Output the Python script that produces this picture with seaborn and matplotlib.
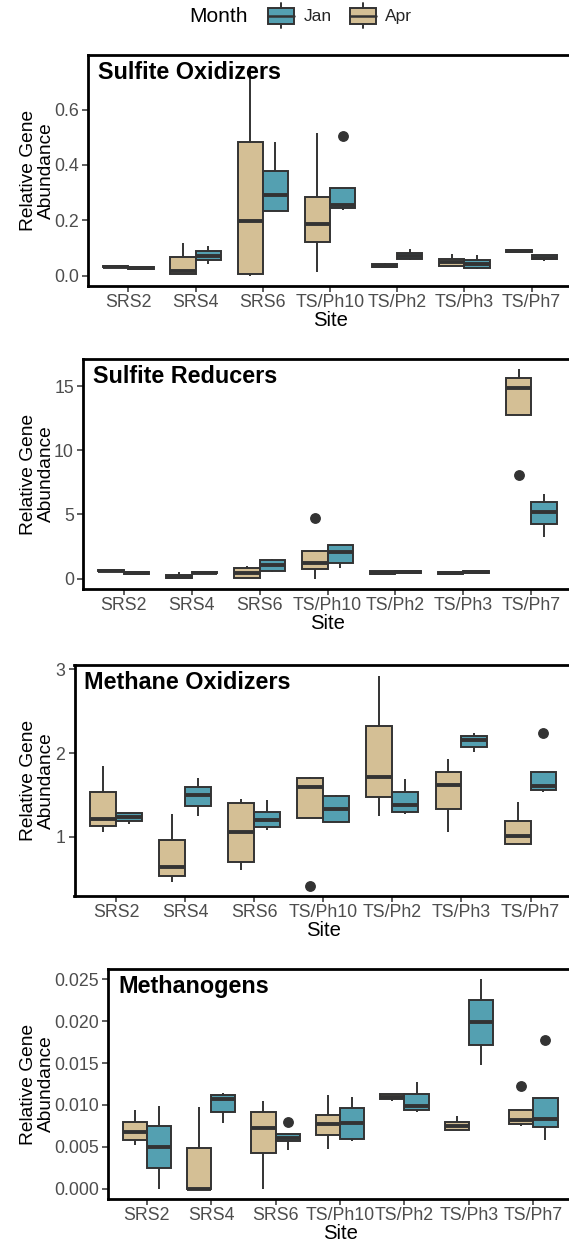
import matplotlib
matplotlib.use("Agg")
import matplotlib.pyplot as plt
from matplotlib.patches import Patch, Rectangle
from matplotlib.lines import Line2D
from matplotlib.legend_handler import HandlerBase
from matplotlib.ticker import FormatStrFormatter
import numpy as np
import pandas as pd
import seaborn as sns

# ---------------------------------------------------------------- data
SITES = ["SRS2", "SRS4", "SRS6", "TS/Ph10", "TS/Ph2", "TS/Ph3", "TS/Ph7"]
MONTHS = ["Apr", "Jan"]          # drawing order within each site
LEGEND_MONTHS = ["Jan", "Apr"]   # order shown in the legend

# per-site observations (one list per site, in SITES order)
sulfite_ox_apr = [
    [0.027, 0.029, 0.032, 0.036, 0.038],
    [0.004, 0.006, 0.018, 0.066, 0.117],
    [0.000, 0.005, 0.198, 0.482, 0.760],
    [0.011, 0.123, 0.186, 0.283, 0.515],
    [0.029, 0.032, 0.036, 0.040, 0.046],
    [0.033, 0.036, 0.048, 0.060, 0.077],
    [0.082, 0.084, 0.087, 0.091, 0.093],
]
sulfite_ox_jan = [
    [0.022, 0.025, 0.028, 0.031, 0.034],
    [0.043, 0.055, 0.070, 0.090, 0.105],
    [0.232, 0.235, 0.290, 0.379, 0.484],
    [0.237, 0.243, 0.243, 0.255, 0.255, 0.318, 0.318, 0.318, 0.505],
    [0.055, 0.058, 0.071, 0.082, 0.095],
    [0.024, 0.026, 0.040, 0.056, 0.075],
    [0.052, 0.058, 0.064, 0.073, 0.075],
]

sulfite_red_apr = [
    [0.55, 0.58, 0.62, 0.68, 0.72],
    [0.05, 0.07, 0.12, 0.30, 0.52],
    [0.05, 0.07, 0.40, 0.85, 0.98],
    [0.00, 0.78, 0.78, 1.22, 1.22, 2.15, 2.15, 2.15, 4.72],
    [0.30, 0.34, 0.45, 0.58, 0.62],
    [0.30, 0.36, 0.45, 0.54, 0.58],
    [8.10, 12.75, 12.75, 14.84, 14.84, 15.65, 15.65, 16.30, 16.30],
]
sulfite_red_jan = [
    [0.30, 0.38, 0.45, 0.52, 0.60],
    [0.38, 0.40, 0.45, 0.52, 0.55],
    [0.52, 0.60, 1.08, 1.42, 1.55],
    [0.85, 1.25, 2.05, 2.60, 2.65],
    [0.42, 0.45, 0.52, 0.62, 0.66],
    [0.38, 0.42, 0.48, 0.55, 0.58],
    [3.20, 4.22, 5.18, 5.96, 6.60],
]

methane_ox_apr = [
    [1.060, 1.131, 1.219, 1.536, 1.840],
    [0.457, 0.536, 0.636, 0.960, 1.270],
    [0.610, 0.700, 1.060, 1.400, 1.457],
    [0.420, 1.225, 1.225, 1.600, 1.600, 1.700, 1.700, 1.710, 1.710],
    [1.246, 1.476, 1.720, 2.318, 2.925],
    [1.060, 1.330, 1.615, 1.774, 1.930],
    [0.910, 0.910, 1.012, 1.187, 1.417],
]
methane_ox_jan = [
    [1.150, 1.190, 1.235, 1.280, 1.290],
    [1.246, 1.365, 1.496, 1.600, 1.707],
    [1.080, 1.112, 1.200, 1.294, 1.445],
    [1.180, 1.180, 1.338, 1.488, 1.505],
    [1.270, 1.300, 1.377, 1.530, 1.695],
    [2.012, 2.070, 2.150, 2.200, 2.238],
    [1.536, 1.556, 1.556, 1.607, 1.607, 1.774, 1.774, 1.774, 2.243],
]

methanogen_apr = [
    [0.00518, 0.00581, 0.00677, 0.00800, 0.00936],
    [0.00000, 0.00000, 0.00000, 0.00490, 0.00980],
    [0.00000, 0.00422, 0.00729, 0.00920, 0.01047],
    [0.00470, 0.00641, 0.00768, 0.00880, 0.01119],
    [0.01047, 0.01070, 0.01100, 0.01125, 0.01130],
    [0.00697, 0.00697, 0.00748, 0.00800, 0.00868],
    [0.00748, 0.00770, 0.00770, 0.00820, 0.00820, 0.00940, 0.00940, 0.00940, 0.01230],
]
methanogen_jan = [
    [0.00000, 0.00243, 0.00502, 0.00748, 0.00987],
    [0.00780, 0.00916, 0.01067, 0.01119, 0.01146],
    [0.00460, 0.00570, 0.00570, 0.00610, 0.00610, 0.00650, 0.00650, 0.00650, 0.00790],
    [0.00569, 0.00589, 0.00780, 0.00963, 0.01095],
    [0.00920, 0.00940, 0.00987, 0.01135, 0.01274],
    [0.01473, 0.01716, 0.01990, 0.02249, 0.02500],
    [0.00577, 0.00736, 0.00736, 0.00828, 0.00828, 0.01087, 0.01087, 0.01087, 0.01772],
]

PANEL_TITLES = ["Sulfite Oxidizers", "Sulfite Reducers", "Methane Oxidizers", "Methanogens"]
PANEL_DATA = [
    (sulfite_ox_apr, sulfite_ox_jan),
    (sulfite_red_apr, sulfite_red_jan),
    (methane_ox_apr, methane_ox_jan),
    (methanogen_apr, methanogen_jan),
]
PANEL_YTICKS = [
    [0.0, 0.2, 0.4, 0.6],
    [0, 5, 10, 15],
    [1, 2, 3],
    [0.000, 0.005, 0.010, 0.015, 0.020, 0.025],
]
PANEL_YFMT = ["%.1f", "%d", "%d", "%.3f"]

# ---------------------------------------------------------------- style
PALETTE = {"Jan": "#54A0B1", "Apr": "#D4BF95"}
EDGE = "#333333"
TICK_TXT = "#4D4D4D"

sns.set_style("white")
plt.rcParams["font.family"] = ["Liberation Sans", "DejaVu Sans"]

W, H = 569, 1251
fig = plt.figure(figsize=(W / 100, H / 100), dpi=100)

# plot areas in pixels: (left, top, bottom); all share the right edge
RIGHT = 572
PANEL_BOXES = [(88, 55, 286), (83, 359, 589), (74.5, 665, 896), (108, 969, 1199)]
YLABEL_X = 55  # pixel x of the y-label anchor


def long_frame(apr, jan):
    rows = []
    for site, a_vals, j_vals in zip(SITES, apr, jan):
        rows += [(site, "Apr", v) for v in a_vals]
        rows += [(site, "Jan", v) for v in j_vals]
    return pd.DataFrame(rows, columns=["Site", "Month", "Abundance"])


for (left, top, bottom), title, (apr, jan), yticks, yfmt in zip(
        PANEL_BOXES, PANEL_TITLES, PANEL_DATA, PANEL_YTICKS, PANEL_YFMT):
    ax = fig.add_axes([left / W, 1 - bottom / H, (RIGHT - left) / W, (bottom - top) / H])
    df = long_frame(apr, jan)

    sns.boxplot(
        data=df, x="Site", y="Abundance", hue="Month",
        order=SITES, hue_order=MONTHS, palette=PALETTE, saturation=1,
        width=0.75, gap=0, dodge=True, whis=1.5,
        linecolor=EDGE, linewidth=1.4, fliersize=6.8,
        medianprops={"linewidth": 2.8, "color": EDGE},
        flierprops={"marker": "o", "markerfacecolor": EDGE, "markeredgecolor": EDGE},
        legend=False, ax=ax,
    )
    for cont in ax.containers:
        for cap in getattr(cont, "caps", []):
            cap.set_visible(False)

    vals = df["Abundance"].to_numpy()
    lo, hi = vals.min(), vals.max()
    pad = 0.05 * (hi - lo)
    ax.set_ylim(lo - pad, hi + pad)
    ax.set_xlim(-0.6, len(SITES) - 0.4)

    ax.set_yticks(yticks)
    ax.yaxis.set_major_formatter(FormatStrFormatter(yfmt))

    for sp in ax.spines.values():
        sp.set_visible(True)
        sp.set_color("black")
        sp.set_linewidth(2.0)

    ax.tick_params(axis="both", which="major", length=4, width=1.1, color=EDGE,
                   labelcolor=TICK_TXT, labelsize=12.8, bottom=True, left=True)
    ax.tick_params(axis="x", pad=1.5)
    ax.tick_params(axis="y", pad=2.5)

    ax.set_xlabel("Site", fontsize=14.6, color="black", labelpad=0.5)
    ax.set_ylabel("Relative Gene\nAbundance", fontsize=13.8, color="black",
                  linespacing=1.05)
    ax.yaxis.set_label_coords((YLABEL_X - left) / (RIGHT - left), 0.5)

    ax.annotate(title, xy=(0, 1), xycoords="axes fraction",
                xytext=(7.2, -4.5), textcoords="offset points",
                ha="left", va="top", fontsize=16.8, fontweight="bold", color="black")


# ---------------------------------------------------------------- legend
class BoxKeyHandler(HandlerBase):
    """Draws a small box-and-whisker glyph as the legend key."""

    def create_artists(self, legend, orig_handle, xdescent, ydescent,
                       width, height, fontsize, trans):
        x0, y0 = -xdescent, -ydescent
        rect = Rectangle((x0, y0), width, height,
                         facecolor=orig_handle.get_facecolor(),
                         edgecolor=EDGE, linewidth=1.4, transform=trans)
        xm = x0 + width / 2
        ym = y0 + height / 2
        whisk = height * 0.3
        med = Line2D([x0, x0 + width], [ym, ym], color=EDGE, linewidth=1.8,
                     transform=trans)
        up = Line2D([xm, xm], [y0 + height, y0 + height + whisk], color=EDGE,
                    linewidth=1.4, transform=trans)
        dn = Line2D([xm, xm], [y0 - whisk, y0], color=EDGE, linewidth=1.4,
                    transform=trans)
        return [rect, med, up, dn]


handles = [Patch(facecolor=PALETTE[m], edgecolor=EDGE) for m in LEGEND_MONTHS]
fig.legend(handles, LEGEND_MONTHS, loc="center",
           bbox_to_anchor=(340 / W, 1 - 16 / H), ncol=2, frameon=False,
           fontsize=12.5, handlelength=1.5, handleheight=1.05,
           handletextpad=0.55, columnspacing=1.05, borderpad=0, borderaxespad=0,
           handler_map={Patch: BoxKeyHandler()})
fig.text(189 / W, 1 - 16 / H, "Month", ha="left", va="center",
         fontsize=15, color="black")

fig.savefig("out.png", dpi=100)
